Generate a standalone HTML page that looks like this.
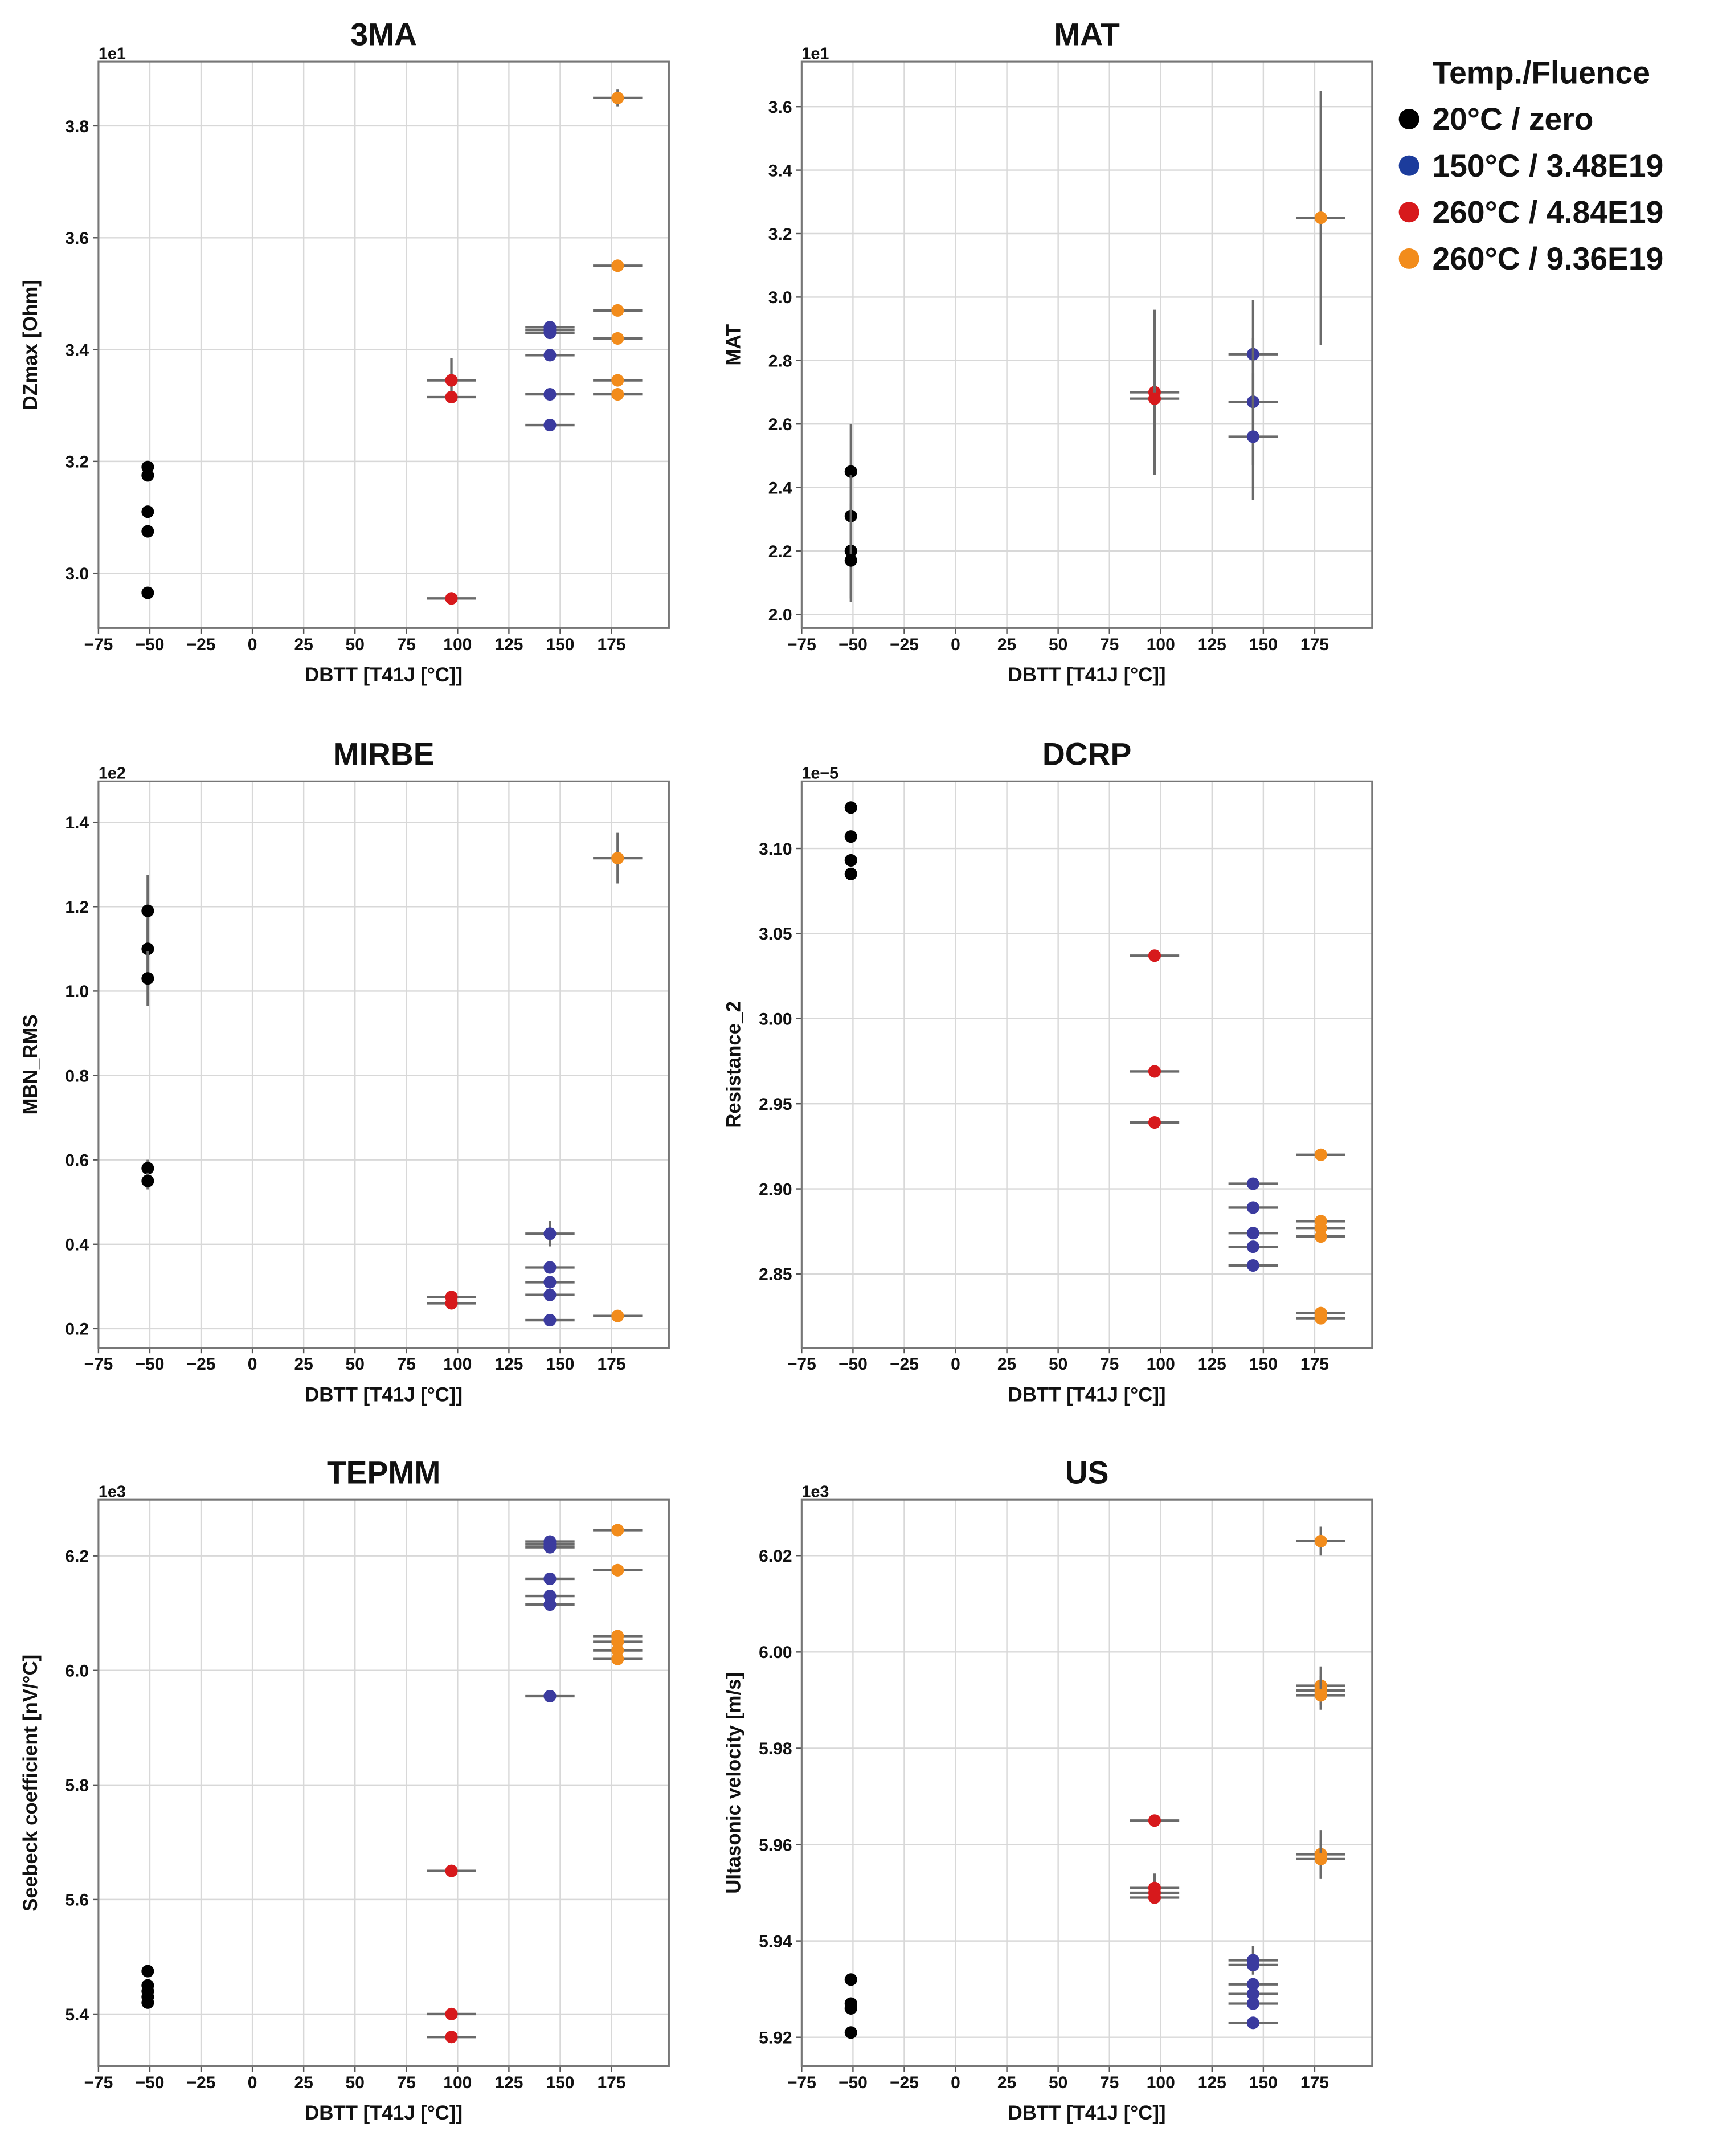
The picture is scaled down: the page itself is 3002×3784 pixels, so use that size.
<!DOCTYPE html>
<html><head><meta charset="utf-8"><style>
html,body{margin:0;padding:0;background:#fff}
svg{display:block}
text{font-family:"Liberation Sans","DejaVu Sans",sans-serif;font-weight:bold;fill:#111}
</style></head><body>
<svg id="chart" width="3002" height="3784" viewBox="0 0 1250 1575.6" xmlns="http://www.w3.org/2000/svg"></svg>
<script>
// x categories (DBTT) per group
const groupNames = ["20°C / zero","150°C / 3.48E19","260°C / 4.84E19","260°C / 9.36E19"];
const groupX = [-51, 145, 97, 178];
const groupXerr = [3, 12, 12, 12];
const groupColors = ["#000000","#3b3b9f","#d7191c","#f28c1c"];
const xTicks = [-75,-50,-25,0,25,50,75,100,125,150,175];

const titles = ["3MA","MAT","MIRBE","DCRP","TEPMM","US"];
const yLabels = ["DZmax [Ohm]","MAT","MBN_RMS","Resistance_2","Seebeck coefficient [nV/°C]","Ultasonic velocity [m/s]"];
const offsets = ["1e1","1e1","1e2","1e\u22125","1e3","1e3"];
const yDomains = [[2.902,3.915],[1.957,3.742],[0.1545,1.497],[2.8066,3.1394],[5.309,6.298],[5.914,6.0316]];
const yTickVals = [[3.0,3.2,3.4,3.6,3.8],[2.0,2.2,2.4,2.6,2.8,3.0,3.2,3.4,3.6],[0.2,0.4,0.6,0.8,1.0,1.2,1.4],[2.85,2.90,2.95,3.00,3.05,3.10],[5.4,5.6,5.8,6.0,6.2],[5.92,5.94,5.96,5.98,6.00,6.02]];
const yTickDec = [1,1,1,2,1,2];

// values per panel: [black, blue, red, orange]
const vals3MA = [[3.19,3.175,3.11,3.075,2.965],[3.44,3.435,3.43,3.39,3.32,3.265],[3.345,3.315,2.955],[3.85,3.55,3.47,3.42,3.345,3.32]];
const err3MA  = [[0.005,0.005,0.005,0.005,0.005],[0.01,0.01,0.01,0.005,0.005,0.005],[0.04,0.005,0.005],[0.015,0.005,0.005,0.01,0.005,0.005]];
const valsMAT = [[2.45,2.31,2.20,2.17],[2.82,2.67,2.56],[2.70,2.68],[3.25]];
const errMAT  = [[0.15,0.13,0.15,0.13],[0.17,0.2,0.2],[0.26,0.2],[0.4]];
const valsMIRBE = [[1.19,1.10,1.03,0.58,0.55],[0.425,0.345,0.31,0.28,0.22],[0.275,0.26],[1.315,0.23]];
const errMIRBE  = [[0.085,0.07,0.065,0.02,0.02],[0.03,0.01,0.01,0.01,0.01],[0.01,0.01],[0.06,0.005]];
const valsDCRP = [[3.124,3.107,3.093,3.085],[2.903,2.889,2.874,2.866,2.855],[3.037,2.969,2.939],[2.920,2.881,2.877,2.872,2.827,2.824]];
const errDCRP  = [[0.002,0.002,0.002,0.002],[0.002,0.002,0.002,0.002,0.002],[0.002,0.002,0.002],[0.002,0.002,0.002,0.002,0.002,0.002]];
const valsTEPMM = [[5.475,5.45,5.44,5.43,5.42],[6.225,6.22,6.215,6.16,6.13,6.115,5.955],[5.65,5.40,5.36],[6.245,6.175,6.06,6.05,6.035,6.02]];
const errTEPMM  = [[0.005,0.005,0.005,0.005,0.005],[0.005,0.005,0.005,0.005,0.005,0.005,0.005],[0.005,0.005,0.005],[0.005,0.005,0.005,0.005,0.005,0.005]];
const valsUS = [[5.932,5.927,5.926,5.921],[5.936,5.935,5.931,5.929,5.927,5.923],[5.965,5.951,5.950,5.949],[6.023,5.993,5.992,5.991,5.958,5.957]];
const errUS  = [[0.001,0.001,0.001,0.001],[0.003,0.001,0.001,0.001,0.001,0.001],[0.001,0.003,0.001,0.001],[0.003,0.004,0.003,0.003,0.005,0.004]];

const allVals = [vals3MA,valsMAT,valsMIRBE,valsDCRP,valsTEPMM,valsUS];
const allErr = [err3MA,errMAT,errMIRBE,errDCRP,errTEPMM,errUS];

const NS="http://www.w3.org/2000/svg";
const svg=document.getElementById('chart');
function mk(tag,attrs,parent){const e=document.createElementNS(NS,tag);for(const k in attrs)e.setAttribute(k,attrs[k]);(parent||svg).appendChild(e);return e;}

const colL=[72,586], rowT=[45,571,1096], W=417, H=414;
const xMin=-75, xMax=203;

for(let p=0;p<6;p++){
  const L=colL[p%2], T=rowT[Math.floor(p/2)];
  const g=mk('g',{});
  
  
  const xs=v=>L+(v-xMin)/(xMax-xMin)*W;
  const [y0,y1]=yDomains[p];
  const ys=v=>T+H-(v-y0)/(y1-y0)*H;
  xTicks.forEach(t=>{
    const gl=mk('line',{x1:xs(t),x2:xs(t),y1:T,y2:T+H,stroke:'#d8d8d8','stroke-width':1},g);
    
    
    const tl=mk('text',{x:xs(t),y:T+H+16,'font-size':12.5,'text-anchor':'middle'},g);
    tl.textContent=t<0?'\u2212'+(-t):t;
    
    
    mk('line',{x1:xs(t),x2:xs(t),y1:T+H,y2:T+H+4,stroke:'#555'},g);
  });
  yTickVals[p].forEach(t=>{
    const gl=mk('line',{x1:L,x2:L+W,y1:ys(t),y2:ys(t),stroke:'#d8d8d8','stroke-width':1},g);
    
    
    const tl=mk('text',{x:L-7,y:ys(t)+4.5,'font-size':12.5,'text-anchor':'end'},g);
    tl.textContent=t.toFixed(yTickDec[p]);
    
    
    mk('line',{x1:L-4,x2:L,y1:ys(t),y2:ys(t),stroke:'#555'},g);
  });
  const fr=mk('rect',{x:L,y:T,width:W,height:H,fill:'none',stroke:'#777','stroke-width':1.3},g);
  
  
  const ti=mk('text',{x:L+W/2,y:T-12,'font-size':23,'text-anchor':'middle'},g);
  ti.textContent=titles[p];
  
  
  const of=mk('text',{x:L,y:T-2,'font-size':12},g);
  of.textContent=offsets[p];
  
  
  const xl=mk('text',{x:L+W/2,y:T+H+39,'font-size':14.5,'text-anchor':'middle'},g);
  xl.textContent='DBTT [T41J [°C]]';
  
  
  const yl=mk('text',{x:0,y:0,'font-size':14.5,'text-anchor':'middle',transform:`translate(${L-45},${T+H/2}) rotate(-90)`},g);
  yl.textContent=yLabels[p];
  
  
  for(let s=0;s<4;s++){
    const vs=allVals[p][s], es=allErr[p][s];
    vs.forEach((v,i)=>{
      const cx=xs(groupX[s]), cy=ys(v);
      const eh=mk('line',{x1:xs(groupX[s]-groupXerr[s]),x2:xs(groupX[s]+groupXerr[s]),y1:cy,y2:cy,stroke:'#6a6a6a','stroke-width':1.8},g);
      
      
      const ev=mk('line',{x1:cx,x2:cx,y1:ys(v-es[i]),y2:ys(v+es[i]),stroke:'#6a6a6a','stroke-width':1.8},g);
      
      
      const c=mk('circle',{cx:cx,cy:cy,r:4.6,fill:groupColors[s]},g);
      
      
    });
  }
}
const lg=mk('g',{});


const lt=mk('text',{x:1047,y:61,'font-size':23},lg);
lt.textContent='Temp./Fluence';


groupNames.forEach((n,i)=>{
  const y=87+i*34;
  const m=mk('circle',{cx:1030,cy:y,r:7.5,fill:groupColors[i]==='#3b3b9f'?'#1c3c9c':groupColors[i]},lg);
  
  
  const t=mk('text',{x:1047,y:y+8,'font-size':23},lg);
  t.textContent=n;
  
  
});
</script>
</body></html>
